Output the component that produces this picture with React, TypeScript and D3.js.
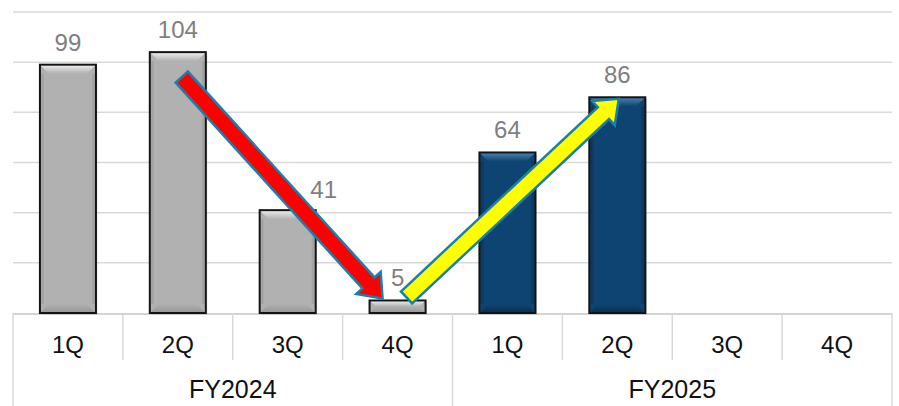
import React from "react";
import * as d3 from "d3";

// Quarterly values per fiscal year
const fiscalYears = ["FY2024", "FY2025"];
const quarters = ["1Q", "2Q", "3Q", "4Q"];
const fy2024Values = [99, 104, 41, 5];
const fy2025Values: (number | null)[] = [64, 86, null, null];
const yTicks = [0, 20, 40, 60, 80, 100, 120];

const W = 899;
const H = 406;
const LEFT = 13;
const RIGHT = 892;
const TOP = 12;
const BASE = 313;

const FONT = "'Liberation Sans', Arial, Helvetica, sans-serif";

type Bar = { key: string; fy: string; q: string; value: number | null; series: number };

const bars: Bar[] = [
  ...quarters.map((q, i) => ({ key: `${fiscalYears[0]}-${q}`, fy: fiscalYears[0], q, value: fy2024Values[i], series: 0 })),
  ...quarters.map((q, i) => ({ key: `${fiscalYears[1]}-${q}`, fy: fiscalYears[1], q, value: fy2025Values[i], series: 1 })),
];

const palette = [
  { base: "#b1b1b1", light: "#f0f0f0", dark: "#8a8a8a" },
  { base: "#0e4471", light: "#4a84b6", dark: "#06263f" },
];

function arrowPath(x1: number, y1: number, x2: number, y2: number, shaft = 8.2, head = 16.5, headLen = 21) {
  const dx = x2 - x1;
  const dy = y2 - y1;
  const len = Math.hypot(dx, dy);
  const ux = dx / len;
  const uy = dy / len;
  const nx = -uy;
  const ny = ux;
  const bx = x2 - ux * headLen;
  const by = y2 - uy * headLen;
  const pts: [number, number][] = [
    [x1 + nx * shaft, y1 + ny * shaft],
    [bx + nx * shaft, by + ny * shaft],
    [bx + nx * head, by + ny * head],
    [x2, y2],
    [bx - nx * head, by - ny * head],
    [bx - nx * shaft, by - ny * shaft],
    [x1 - nx * shaft, y1 - ny * shaft],
  ];
  return "M" + pts.map((p) => p.join(",")).join("L") + "Z";
}

export default function App() {
  const x = d3
    .scaleBand<string>()
    .domain(bars.map((b) => b.key))
    .range([LEFT, RIGHT])
    .paddingInner(0.49)
    .paddingOuter(0.245);
  const y = d3.scaleLinear().domain([0, 120]).range([BASE, TOP]);
  const step = x.step();
  const bw = x.bandwidth();
  const cx = (i: number) => (x(bars[i].key) as number) + bw / 2;
  const top = (i: number) => y(bars[i].value as number);

  // label nudges (index -> dx, dy)
  const labelNudge: Record<number, [number, number]> = { 2: [36, 2] };

  const redArrow = arrowPath(cx(1) + 4, top(1) + 25, cx(3) - 15, top(3) - 2);
  const yellowArrow = arrowPath(cx(3) + 9, top(3) - 3, cx(5) + 1.5, top(5) + 1.5);

  return (
    <svg width={W} height={H} style={{ position: "absolute", left: 0, top: 0, background: "#fff" }}>
      <defs>
        {palette.map((p, i) => (
          <React.Fragment key={i}>
            <linearGradient id={`topBevel${i}`} x1="0" y1="0" x2="0" y2="1">
              <stop offset="0" stopColor={p.light} />
              <stop offset="1" stopColor={p.base} />
            </linearGradient>
            <linearGradient id={`botBevel${i}`} x1="0" y1="0" x2="0" y2="1">
              <stop offset="0" stopColor={p.base} />
              <stop offset="1" stopColor={p.dark} />
            </linearGradient>
          </React.Fragment>
        ))}
      </defs>

      {/* gridlines */}
      {yTicks.slice(1).map((t) => (
        <line key={t} x1={LEFT} x2={RIGHT} y1={y(t)} y2={y(t)} stroke="#d9d9d9" strokeWidth={1.5} />
      ))}
      <line x1={LEFT} x2={RIGHT} y1={BASE + 1} y2={BASE + 1} stroke="#d4d4d4" strokeWidth={2} />

      {/* category dividers */}
      {d3.range(0, bars.length + 1).map((i) => {
        const xx = LEFT + i * step;
        const full = i % quarters.length === 0;
        return (
          <line key={i} x1={xx} x2={xx} y1={BASE} y2={full ? H : 360} stroke="#d9d9d9" strokeWidth={1.5} />
        );
      })}

      {/* bars */}
      {bars.map((b) => {
        if (b.value == null) return null;
        const x0 = x(b.key) as number;
        const y0 = y(b.value);
        const h = BASE - y0;
        const bv = Math.min(9, h / 2);
        const p = palette[b.series];
        return (
          <g key={b.key}>
            <rect x={x0 + 1.5} y={y0 + 1.5} width={bw} height={h} fill="#000" opacity={0.12} />
            <rect x={x0} y={y0} width={bw} height={h} fill={p.base} />
            <polygon
              points={`${x0},${y0} ${x0 + bw},${y0} ${x0 + bw - bv},${y0 + bv} ${x0 + bv},${y0 + bv}`}
              fill={`url(#topBevel${b.series})`}
            />
            <polygon
              points={`${x0},${BASE} ${x0 + bw},${BASE} ${x0 + bw - bv},${BASE - bv} ${x0 + bv},${BASE - bv}`}
              fill={`url(#botBevel${b.series})`}
              opacity={0.7}
            />
            <rect x={x0 + 1} y={y0 + bv} width={3} height={Math.max(0, h - 2 * bv)} fill={p.dark} opacity={0.35} />
            <rect x={x0 + bw - 4} y={y0 + bv} width={3} height={Math.max(0, h - 2 * bv)} fill={p.dark} opacity={0.35} />
            <rect x={x0} y={y0} width={bw} height={h} fill="none" stroke="#141414" strokeWidth={2} />
          </g>
        );
      })}

      {/* value labels */}
      {bars.map((b, i) => {
        if (b.value == null) return null;
        const [ndx, ndy] = labelNudge[i] || [0, 0];
        return (
          <text
            key={b.key}
            x={cx(i) + ndx}
            y={top(i) - 14 + ndy}
            textAnchor="middle"
            fontFamily={FONT}
            fontSize={24}
            fill="#7f7f7f"
          >
            {b.value}
          </text>
        );
      })}

      {/* trend arrows */}
      <path d={redArrow} fill="#ff0000" stroke="#1b7fab" strokeWidth={2.5} strokeLinejoin="miter" />
      <path d={yellowArrow} fill="#ffff00" stroke="#1b7fab" strokeWidth={2.5} strokeLinejoin="miter" />

      {/* quarter labels */}
      {bars.map((b, i) => (
        <text key={b.key} x={cx(i)} y={353} textAnchor="middle" fontFamily={FONT} fontSize={24} fill="#111">
          {b.q}
        </text>
      ))}

      {/* fiscal year labels */}
      {fiscalYears.map((fy, g) => (
        <text
          key={fy}
          x={LEFT + (g + 0.5) * quarters.length * step}
          y={398}
          textAnchor="middle"
          fontFamily={FONT}
          fontSize={25}
          fill="#111"
        >
          {fy}
        </text>
      ))}
    </svg>
  );
}
